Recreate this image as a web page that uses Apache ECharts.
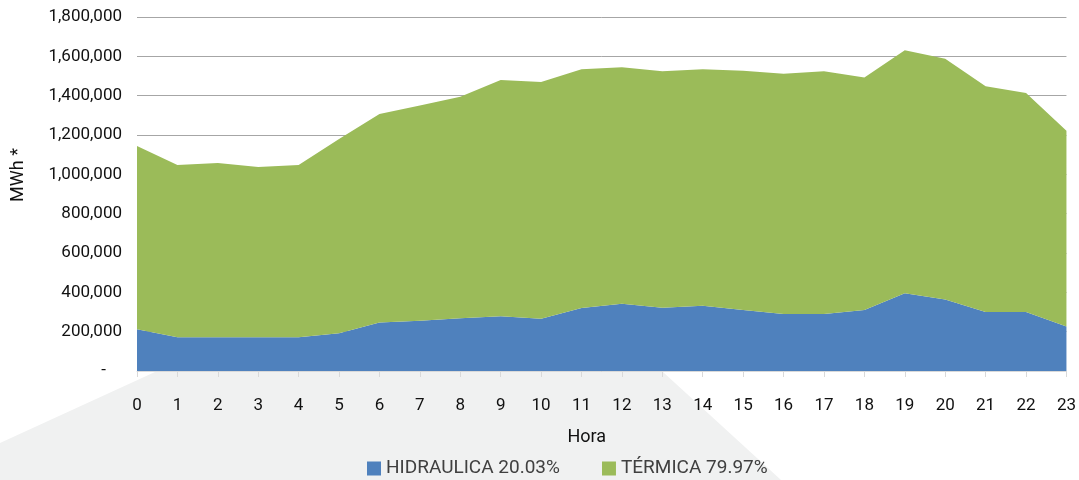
<!DOCTYPE html>
<html>
<head>
    <meta charset="utf-8">
    <title>Generación por hora</title>
    <script src="https://cdn.jsdelivr.net/npm/echarts@6/dist/echarts.min.js"></script>
    <style>
        html, body { margin: 0; padding: 0; background: #fff; }
        #chart { width: 1079px; height: 480px; }
    </style>
</head>
<body>
<div id="chart"></div>
<script>
    // datos por hora (MWh)
    var horas = ['0','1','2','3','4','5','6','7','8','9','10','11','12','13','14','15','16','17','18','19','20','21','22','23'];
    var hidraulica = [212000, 171000, 171000, 171000, 171000, 192000, 246000, 256000, 268000, 278000, 266000, 320000,
        342000, 322000, 332000, 310000, 290000, 290000, 310000, 395000, 364000, 300000, 300000, 226000];
    var termica = [932000, 876000, 887000, 866000, 876000, 988000, 1061000, 1094000, 1127000, 1202000, 1204000, 1214000,
        1202000, 1202000, 1202000, 1217000, 1222000, 1234000, 1182000, 1236000, 1224000, 1148000, 1114000, 996000];
    var nombres = ['HIDRAULICA 20.03%', 'TÉRMICA 79.97%'];
    var yMin = 0, yMax = 1800000, yPaso = 200000;

    var chart = echarts.init(document.getElementById('chart'));
    var fuente = 'Roboto';

    var option = {
        animation: false,
        textStyle: { fontFamily: fuente },
        grid: { left: 137, right: 11, top: 17, bottom: 109 },
        // fondo gris decorativo abajo a la izquierda
        graphic: [{
            type: 'polygon',
            z: -10,
            silent: true,
            shape: { points: [[0, 443], [155, 372], [663, 372], [781, 480], [0, 480]] },
            style: { fill: '#f0f1f1' }
        }],
        legend: {
            data: nombres,
            left: 362,
            top: 454,
            itemWidth: 14,
            itemHeight: 14,
            itemGap: 42,
            icon: 'rect',
            textStyle: { fontFamily: fuente, fontSize: 19, color: '#404040' }
        },
        xAxis: {
            type: 'category',
            data: horas,
            boundaryGap: false,
            name: 'Hora',
            nameLocation: 'middle',
            nameGap: 57,
            nameTextStyle: { fontFamily: fuente, fontSize: 18, color: '#111', padding: [0, 30, 0, 0] },
            axisLine: { lineStyle: { color: '#d9d9d9', width: 1 } },
            axisTick: { show: true, length: 6, lineStyle: { color: '#d9d9d9' } },
            axisLabel: { margin: 26, fontSize: 17, color: '#111', fontFamily: fuente },
            splitLine: { show: false }
        },
        yAxis: {
            type: 'value',
            min: yMin,
            max: yMax,
            interval: yPaso,
            name: 'MWh *',
            nameLocation: 'middle',
            nameGap: 110,
            nameTextStyle: { fontFamily: fuente, fontSize: 18, color: '#111', padding: [0, 0, 0, 38] },
            axisLine: { show: false },
            axisTick: { show: false },
            axisLabel: {
                margin: 15,
                fontSize: 17,
                color: '#111',
                fontFamily: fuente,
                formatter: function (v) {
                    if (v === 0) return '{z|-}';
                    return v.toLocaleString('en-US');
                },
                rich: { z: { fontSize: 17, color: '#111', padding: [0, 16, 0, 0] } }
            },
            splitLine: { lineStyle: { color: '#a6a6a6', width: 1 } }
        },
        series: [
            {
                name: nombres[0],
                type: 'line',
                stack: 'total',
                data: hidraulica,
                symbol: 'none',
                lineStyle: { width: 0 },
                areaStyle: { color: '#4f81bd', opacity: 1 },
                itemStyle: { color: '#4f81bd' }
            },
            {
                name: nombres[1],
                type: 'line',
                stack: 'total',
                data: termica,
                symbol: 'none',
                lineStyle: { width: 0 },
                areaStyle: { color: '#9bbb59', opacity: 1 },
                itemStyle: { color: '#9bbb59' }
            }
        ]
    };
    chart.setOption(option);

    window.onresize = function () {
        chart.resize();
    };
</script>
</body>
</html>
